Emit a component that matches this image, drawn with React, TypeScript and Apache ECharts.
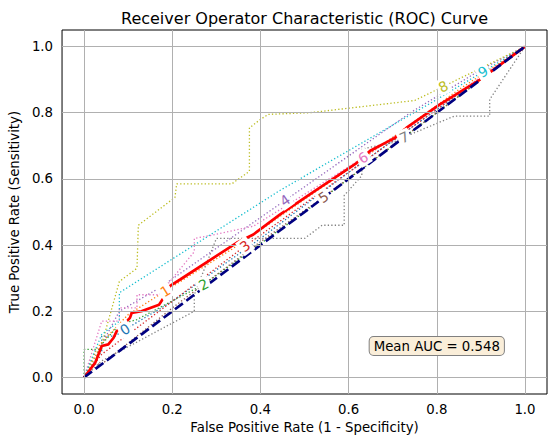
import React, { useEffect, useRef } from "react";
import * as echarts from "echarts";

const curve0 = [[0,0],[0.04,0.08],[0.04,0.125],[0.07,0.125],[0.093,0.145],[0.2,0.23],[0.4,0.42],[0.6,0.62],[0.8,0.81],[1,1]];
const curve1 = [[0,0],[0.03,0.09],[0.05,0.12],[0.1,0.19],[0.184,0.261],[0.35,0.4],[0.6,0.63],[0.85,0.87],[1,1]];
const curve2 = [[0,0],[0,0.085],[0.04,0.085],[0.04,0.1],[0.08,0.16],[0.12,0.175],[0.271,0.281],[0.5,0.5],[0.8,0.8],[1,1]];
const curve3 = [[0,0],[0.04,0.07],[0.1,0.13],[0.2,0.23],[0.365,0.397],[0.6,0.62],[0.8,0.81],[1,1]];
const curve4 = [[0,0],[0.04,0.1],[0.08,0.2],[0.17,0.27],[0.456,0.535],[0.74,0.8],[0.9,0.93],[1,1]];
const curve5 = [[0,0],[0.02,0.04],[0.04,0.04],[0.2,0.21],[0.4,0.41],[0.543,0.545],[0.8,0.8],[1,1]];
const curve6 = [[0,0],[0.04,0.17],[0.08,0.17],[0.08,0.21],[0.12,0.21],[0.12,0.25],[0.17,0.25],[0.25,0.38],[0.25,0.42],[0.29,0.43],[0.384,0.457],[0.633,0.664],[1,1]];
const curve7 = [[0,0],[0.04,0.05],[0.25,0.2],[0.25,0.25],[0.3,0.42],[0.5,0.42],[0.54,0.46],[0.59,0.46],[0.59,0.55],[0.63,0.61],[0.63,0.69],[0.7,0.71],[0.75,0.74],[0.84,0.79],[0.92,0.79],[0.92,0.84],[1,1]];
const curve8 = [[0,0],[0.04,0.1],[0.08,0.29],[0.12,0.33],[0.123,0.46],[0.206,0.544],[0.21,0.585],[0.335,0.585],[0.375,0.623],[0.375,0.754],[0.399,0.779],[0.418,0.795],[0.512,0.8],[0.75,0.837],[1,1]];
const curve9 = [[0,0],[0.04,0.13],[0.08,0.17],[0.08,0.256],[0.444,0.565],[0.8,0.84],[1,1]];
const meanCurve = [[0,0],[0.025,0.044],[0.04,0.095],[0.055,0.1],[0.067,0.12],[0.074,0.14],[0.09,0.16],[0.104,0.18],[0.108,0.195],[0.13,0.2],[0.17,0.22],[0.185,0.25],[0.195,0.277],[0.218,0.296],[0.346,0.407],[0.384,0.432],[0.444,0.492],[0.512,0.553],[0.618,0.648],[0.649,0.685],[0.705,0.724],[0.731,0.754],[0.807,0.825],[0.898,0.9],[1,1]];
const chanceLine = [[0,0],[1,1]];

const curves = [curve0, curve1, curve2, curve3, curve4, curve5, curve6, curve7, curve8, curve9];
const curveNames = ["0","1","2","3","4","5","6","7","8","9"];
const labelX = [0.093, 0.184, 0.271, 0.365, 0.456, 0.543, 0.633, 0.726, 0.815, 0.905];
const tickValues = [0, 0.2, 0.4, 0.6, 0.8, 1.0];
const meanAuc = 0.548;
const aucBoxAt = [0.8, 0.095];

const colors = ["#1f77b4","#ff7f0e","#2ca02c","#d62728","#9467bd","#8c564b","#e377c2","#7f7f7f","#bcbd22","#17becf"];

const W = 548, H = 441;
const G = { left: 62, top: 30, right: 1, bottom: 47 };
const plotW = W - G.left - G.right;
const plotH = H - G.top - G.bottom;
const FONT = "DejaVu Sans";

function interp(curve: number[][], x: number) {
  for (let i = 0; i < curve.length - 1; i++) {
    const [x0, y0] = curve[i];
    const [x1, y1] = curve[i + 1];
    if (x1 > x0 && x >= x0 && x <= x1) {
      const s = (y1 - y0) / (x1 - x0);
      return { y: y0 + s * (x - x0), s };
    }
  }
  return { y: x, s: 1 };
}

export default function App() {
  const ref = useRef<HTMLDivElement>(null);
  useEffect(() => {
    const chart = echarts.init(ref.current!, null, { renderer: "svg" });
    const series: any[] = [];
    series.push({
      type: "line",
      data: [],
      z: 1,
      silent: true,
      markLine: {
        silent: true,
        symbol: ["none", "none"],
        label: { show: false },
        animation: false,
        lineStyle: { color: "#b0b0b0", width: 1, type: "solid" },
        emphasis: { disabled: true },
        data: [
          ...tickValues.map((v) => ({ xAxis: v })),
          ...tickValues.map((v) => ({ yAxis: v })),
        ],
      },
    });
    curves.forEach((c, i) => {
      series.push({
        type: "line",
        name: curveNames[i],
        data: c,
        showSymbol: false,
        symbol: "none",
        z: 2,
        lineStyle: { color: colors[i], width: 1.3, type: [1.3, 2.2] },
      });
    });
    series.push({
      type: "line",
      name: "mean",
      data: meanCurve,
      showSymbol: false,
      symbol: "none",
      z: 3,
      lineStyle: { color: "#ff0000", width: 2.7 },
    });
    series.push({
      type: "line",
      name: "chance",
      data: chanceLine,
      showSymbol: false,
      symbol: "none",
      z: 4,
      lineStyle: { color: "#000080", width: 2.7, type: [9.9, 4.3] },
    });

    const axisCommon = {
      type: "value",
      min: -0.05,
      max: 1.05,
      nameLocation: "middle",
      nameTextStyle: { fontFamily: FONT, fontSize: 13.3, color: "#000" },
      axisLine: { show: false },
      axisTick: { show: true, length: 4.7, customValues: tickValues, lineStyle: { color: "#000", width: 1 } },
      axisLabel: { customValues: tickValues, fontFamily: FONT, fontSize: 13.3, color: "#000", margin: 9, formatter: (v: number) => v.toFixed(1) },
      splitLine: { show: false },
    };

    chart.setOption({
      animation: false,
      grid: { left: G.left, top: G.top, right: G.right, bottom: G.bottom, show: true, borderColor: "#000", borderWidth: 1, backgroundColor: "transparent" },
      xAxis: { ...axisCommon, name: "False Positive Rate (1 - Specificity)", nameGap: 26 },
      yAxis: { ...axisCommon, name: "True Positive Rate (Sensitivity)", nameGap: 37 },
      series,
    });

    const graphics: any[] = [
      {
        type: "text",
        x: G.left + plotW / 2,
        y: 18,
        z: 100,
        style: {
          text: "Receiver Operator Characteristic (ROC) Curve",
          fontFamily: FONT,
          fontSize: 16,
          fill: "#000",
          align: "center",
          verticalAlign: "middle",
        },
      },
    ];
    curves.forEach((c, i) => {
      const { y, s } = interp(c, labelX[i]);
      const p0 = chart.convertToPixel({ gridIndex: 0 }, [labelX[i], y]) as number[];
      const p1 = chart.convertToPixel({ gridIndex: 0 }, [labelX[i] + 0.1, y + 0.1 * s]) as number[];
      const ang = Math.atan2(p0[1] - p1[1], p1[0] - p0[0]);
      graphics.push({
        type: "text",
        x: p0[0],
        y: p0[1],
        rotation: ang,
        z: 100,
        style: {
          text: curveNames[i],
          fontFamily: FONT,
          fontSize: 14,
          fill: colors[i],
          align: "center",
          verticalAlign: "middle",
          backgroundColor: "#ffffff",
          padding: [1, 2],
        },
      });
    });
    const pb = chart.convertToPixel({ gridIndex: 0 }, aucBoxAt) as number[];
    graphics.push({
      type: "text",
      x: pb[0],
      y: pb[1],
      z: 100,
      style: {
        text: `Mean AUC = ${meanAuc.toFixed(3)}`,
        fontFamily: FONT,
        fontSize: 13.3,
        fill: "#000",
        align: "center",
        verticalAlign: "middle",
        backgroundColor: "#faeed9",
        borderColor: "#808080",
        borderWidth: 1,
        borderRadius: 4,
        padding: [3, 4, 2, 4],
      },
    });
    chart.setOption({ graphic: graphics });
    return () => chart.dispose();
  }, []);
  return <div ref={ref} style={{ position: "fixed", left: 0, top: 0, width: W, height: H, background: "#fff" }} />;
}
